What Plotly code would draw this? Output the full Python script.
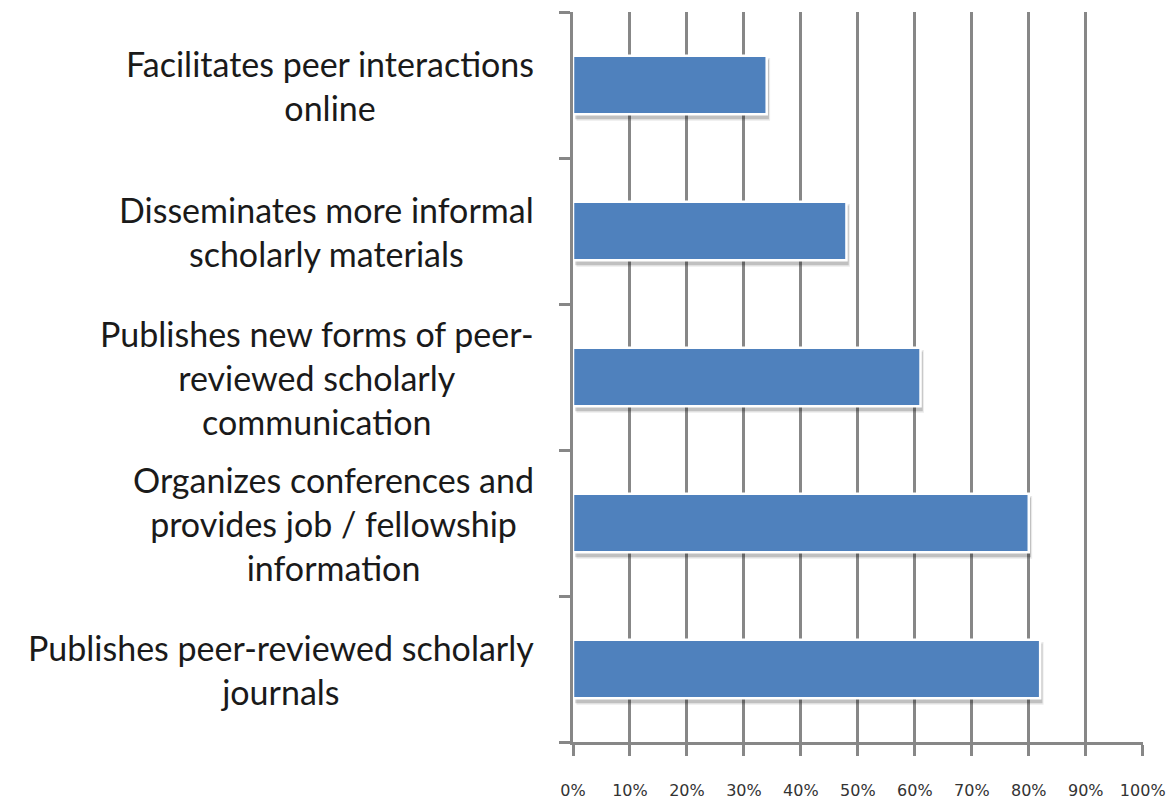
import plotly.graph_objects as go

categories = [
    "Publishes peer-reviewed scholarly<br>journals",
    "Organizes conferences and<br>provides job / fellowship<br>information",
    "Publishes new forms of peer-<br>reviewed scholarly<br>communication",
    "Disseminates more informal<br>scholarly materials",
    "Facilitates peer interactions<br>online",
]
values = [0.82, 0.80, 0.61, 0.48, 0.34]
tick_vals = [0, 0.1, 0.2, 0.3, 0.4, 0.5, 0.6, 0.7, 0.8, 0.9, 1.0]
tick_text = ["0%", "10%", "20%", "30%", "40%", "50%", "60%", "70%", "80%", "90%", "100%"]

BLUE = "#4F81BD"
GRID = "#878787"

fig = go.Figure()
# soft shadow layers
fig.add_trace(go.Bar(
    y=categories, x=values, base=0.006, orientation="h",
    width=0.43, offset=-0.245,
    marker=dict(color="rgba(0,0,0,0.08)", line=dict(width=0)),
    hoverinfo="skip", showlegend=False,
))
fig.add_trace(go.Bar(
    y=categories, x=values, base=0.004, orientation="h",
    width=0.41, offset=-0.235,
    marker=dict(color="rgba(0,0,0,0.18)", line=dict(width=0)),
    hoverinfo="skip", showlegend=False,
))
# main bars
fig.add_trace(go.Bar(
    y=categories, x=values, orientation="h",
    width=0.40, offset=-0.20,
    marker=dict(color=BLUE, line=dict(color="white", width=2.5)),
    showlegend=False,
))

annotations = []
for cat in categories:
    annotations.append(dict(
        x=0, xref="paper", xanchor="right", align="center",
        xshift=-37,
        y=cat, yref="y", yanchor="middle",
        text=cat, showarrow=False,
        font=dict(family="Lato", size=34, color="#1a1a1a"),
    ))

fig.update_layout(
    width=1174, height=800,
    margin=dict(l=565, r=39, t=4, b=66),
    paper_bgcolor="white", plot_bgcolor="white",
    barmode="overlay",
    annotations=annotations,
    xaxis=dict(
        range=[0, 1.0005], tickvals=tick_vals, ticktext=tick_text,
        showgrid=True, gridcolor=GRID, gridwidth=3,
        showline=True, linecolor=GRID, linewidth=3,
        ticks="outside", ticklen=11, tickwidth=3, tickcolor=GRID,
        zeroline=False,
        tickfont=dict(family="DejaVu Sans", size=16, color="#333333"),
        ticklabelstandoff=21,
    ),
    yaxis=dict(
        categoryorder="array", categoryarray=categories,
        range=[-0.5, 4.5],
        showticklabels=False, showgrid=False,
        showline=True, linecolor=GRID, linewidth=3,
        ticks="outside", tickson="boundaries", ticklen=11, tickwidth=3, tickcolor=GRID,
        zeroline=False,
    ),
)

fig.write_html("out.html")
